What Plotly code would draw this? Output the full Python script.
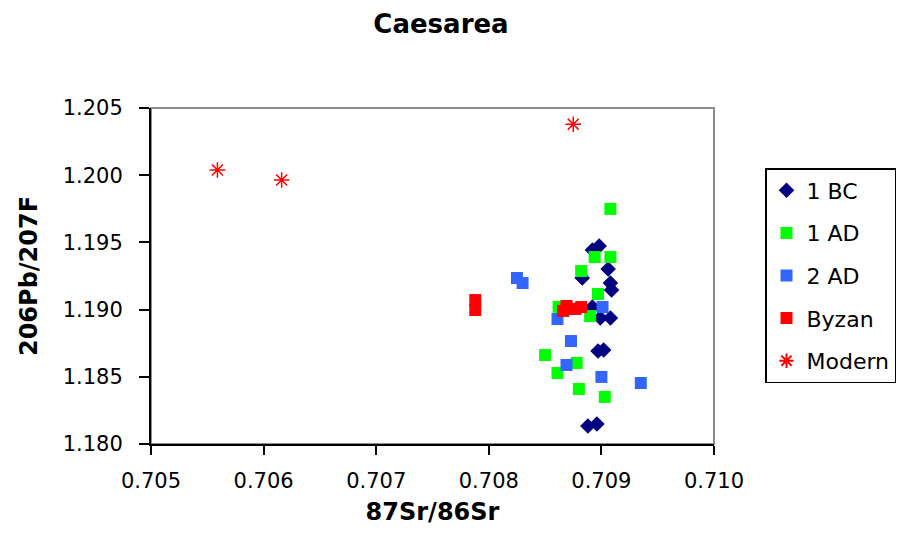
import plotly.graph_objects as go

# ---- data ----
bc_x = [0.70892, 0.70898, 0.70906, 0.70883, 0.70908, 0.70909, 0.70892, 0.70899, 0.70908, 0.70897, 0.70902, 0.70888, 0.70896]
bc_y = [1.19444, 1.19473, 1.19302, 1.19235, 1.19198, 1.19146, 1.19019, 1.18938, 1.18938, 1.18692, 1.18699, 1.18134, 1.18149]

ad1_x = [0.70908, 0.70894, 0.70908, 0.70882, 0.70897, 0.70890, 0.70862, 0.70850, 0.70878, 0.70861, 0.70880, 0.70903]
ad1_y = [1.19749, 1.19391, 1.19391, 1.19287, 1.19116, 1.18952, 1.19020, 1.18662, 1.18603, 1.18528, 1.18409, 1.18350]

ad2_x = [0.70825, 0.70830, 0.70861, 0.70901, 0.70873, 0.70869, 0.70900, 0.70935]
ad2_y = [1.19235, 1.19198, 1.18930, 1.19019, 1.18766, 1.18588, 1.18499, 1.18454]

byz_x = [0.70788, 0.70788, 0.70866, 0.70871, 0.70877, 0.70882, 0.70869]
byz_y = [1.19071, 1.18997, 1.18990, 1.19005, 1.19005, 1.19019, 1.19027]

mod_x = [0.70559, 0.70616, 0.70875]
mod_y = [1.20039, 1.19964, 1.20379]

x_ticks = [0.705, 0.706, 0.707, 0.708, 0.709, 0.710]
y_ticks = [1.180, 1.185, 1.190, 1.195, 1.200, 1.205]

FONT = "DejaVu Sans"

fig = go.Figure()
series = [
    ("1 BC", bc_x, bc_y, dict(symbol="diamond", size=12, color="#000080")),
    ("1 AD", ad1_x, ad1_y, dict(symbol="square", size=12, color="#00FF00")),
    ("2 AD", ad2_x, ad2_y, dict(symbol="square", size=12, color="#3366FF")),
    ("Byzan", byz_x, byz_y, dict(symbol="square", size=12, color="#FF0000")),
    ("Modern", mod_x, mod_y, dict(symbol="asterisk-open", size=13, color="#FF0000",
                                   line=dict(color="#FF0000", width=1.5))),
]
for i, (name, xs, ys, mk) in enumerate(series):
    fig.add_trace(go.Scatter(x=xs, y=ys, mode="markers", name=name, marker=mk,
                             legendgroup=f"g{i}"))

fig.update_layout(
    width=899, height=546,
    margin=dict(l=151, r=185, t=108, b=102, autoexpand=False),
    paper_bgcolor="white", plot_bgcolor="white",
    font=dict(family=FONT, size=21, color="black"),
    title=dict(text="<b>Caesarea</b>", x=441/899, xref="container", xanchor="center",
               y=1 - 24/546, yref="container", yanchor="middle",
               font=dict(family=FONT, size=26, color="black")),
    showlegend=True,
    legend=dict(x=896/899, xref="container", xanchor="right",
                y=1 - 168/546, yref="container", yanchor="top",
                bordercolor="black", borderwidth=1.5, bgcolor="white",
                font=dict(family=FONT, size=22, color="black"),
                tracegroupgap=11, itemsizing="constant"),
    shapes=[dict(type="rect", xref="paper", yref="paper", x0=0, x1=1, y0=0, y1=1,
                 line=dict(color="#8c8c8c", width=2), layer="below")],
)
fig.update_xaxes(range=[0.705, 0.710], tickvals=x_ticks, tickformat=".3f",
                 showgrid=False, zeroline=False, showline=True, linecolor="black", linewidth=2,
                 ticks="outside", ticklen=9, tickwidth=2, tickcolor="black",
                 ticklabelstandoff=8,
                 title=dict(text="<b>87Sr/86Sr</b>", font=dict(family=FONT, size=24), standoff=11))
fig.update_yaxes(range=[1.180, 1.205], tickvals=y_ticks, tickformat=".3f",
                 showgrid=False, zeroline=False, showline=True, linecolor="black", linewidth=2,
                 ticks="outside", ticklen=10, tickwidth=2, tickcolor="black",
                 ticklabelstandoff=12,
                 title=dict(text="<b>206Pb/207F</b>", font=dict(family=FONT, size=24), standoff=18))

fig.write_html("out.html")
